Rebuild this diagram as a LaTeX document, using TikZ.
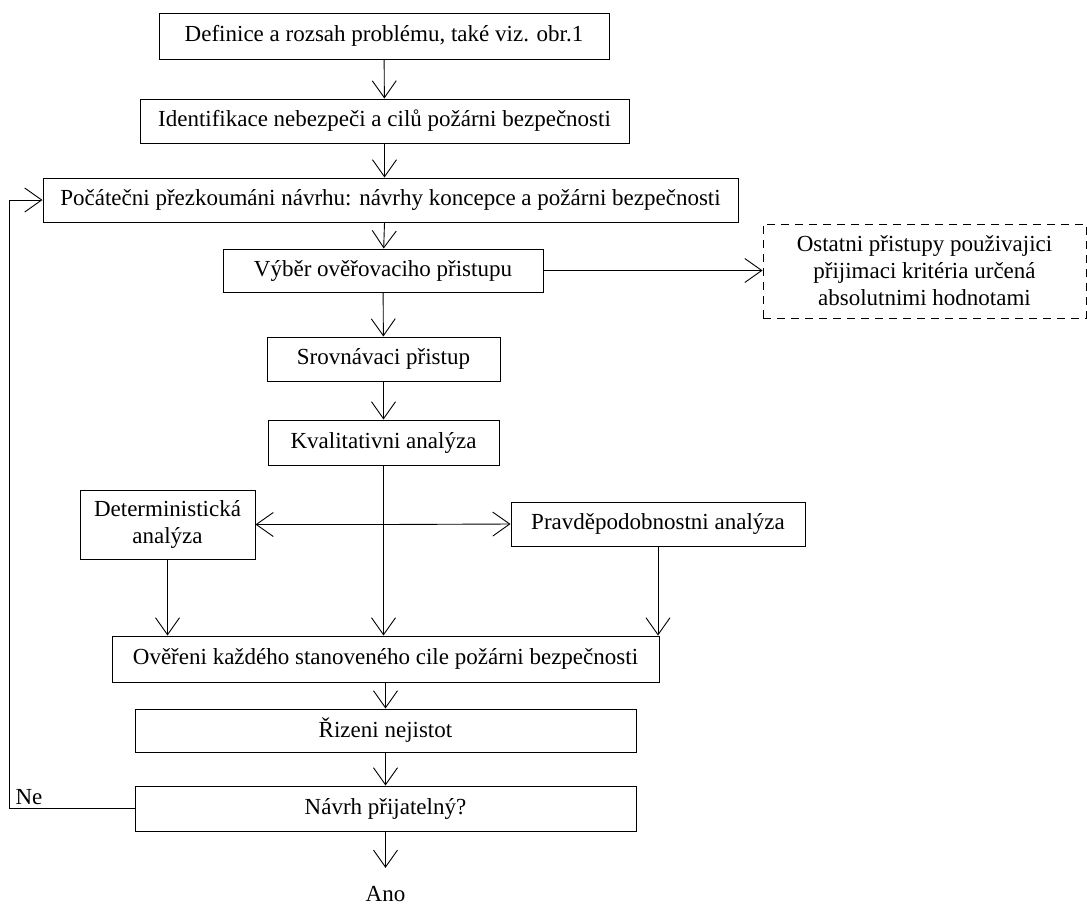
\documentclass[tikz,border=0pt]{standalone}
\usepackage{fontspec}
\setmainfont{Liberation Serif}
\usetikzlibrary{arrows.meta, calc, positioning}

\tikzset{
  blok/.style={draw, line width=1pt, inner sep=0pt, align=center},
  volny/.style={draw, dashed, dash pattern=on 8pt off 6pt, line width=0.9pt, inner sep=0pt, align=center},
  popis/.style={inner sep=0pt}
}

\begin{document}
\begin{tikzpicture}[x=1pt, y=-1pt, line width=0.9pt,
  >={Straight Barb[length=17pt, width=24pt]},
  every node/.style={font=\fontsize{23}{27}\selectfont}]
                        \useasboundingbox (0, 0) rectangle (1087, 906);
                        \node[blok, minimum width=450pt, minimum height=46pt] (definice) at (384, 36) {Definice a rozsah problému, také viz. obr.1};
                        \node[blok, minimum width=489pt, minimum height=44pt] (identifikace) at (384.5, 121) {Identifikace nebezpeči a cilů požárni bezpečnosti};
                        \node[blok, minimum width=695pt, minimum height=44pt] (pocatecni) at (390.5, 200) {Počátečni přezkoumáni návrhu: návrhy koncepce a požárni bezpečnosti};
                        \node[blok, minimum width=320pt, minimum height=43pt] (vyber) at (383, 270.5) {Výběr ověřovaciho přistupu};
                        \node[volny, minimum width=323pt, minimum height=94pt] (ostatni) at (924.5, 271) {Ostatni přistupy použivajici\\přijimaci kritéria určená\\absolutnimi hodnotami};
                        \node[blok, minimum width=233pt, minimum height=44pt] (srovnavaci) at (383.5, 359) {Srovnávaci přistup};
                        \node[blok, minimum width=231pt, minimum height=45pt] (kvalitativni) at (383.5, 442.5) {Kvalitativni analýza};
                        \node[blok, minimum width=175pt, minimum height=69pt] (deterministicka) at (167.5, 524.5) {Deterministická\\analýza};
                        \node[blok, minimum width=294pt, minimum height=44pt] (pravdepodobnostni) at (658, 524) {Pravděpodobnostni analýza};
                        \node[blok, minimum width=547pt, minimum height=46pt] (overeni) at (385.5, 659) {Ověřeni každého stanoveného cile požárni bezpečnosti};
                        \node[blok, minimum width=501pt, minimum height=43pt] (rizeni) at (385.5, 730.5) {Řizeni nejistot};
                        \node[blok, minimum width=501pt, minimum height=45pt] (navrh) at (385.5, 808.5) {Návrh přijatelný?};
                        \node[popis] (ne) at (29, 797) {Ne};
                        \node[popis] (ano) at (385.5, 894) {Ano};
                        \coordinate (zpet) at (9, 808.5);

                        \draw (definice) edge[->] (identifikace);
                        \draw (identifikace) edge[->] (identifikace |- pocatecni.north);
                        \draw (identifikace |- pocatecni.south) edge[->] (vyber);
                        \draw (vyber) edge[->] (srovnavaci);
                        \draw (srovnavaci) edge[->] (kvalitativni);
                        \draw (vyber.east) edge[->] (vyber.east -| ostatni.west);
                        \draw (kvalitativni.south) edge[->] (kvalitativni.south |- overeni.north);
                        \draw (kvalitativni.south |- deterministicka.east) edge[->] (deterministicka.east);
                        \draw (kvalitativni.south |- deterministicka.east) edge[->] (pravdepodobnostni.west);
                        \draw (deterministicka.south) edge[->] (deterministicka.south |- overeni.north);
                        \draw (pravdepodobnostni.south) edge[->] (pravdepodobnostni.south |- overeni.north);
                        \draw (overeni) edge[->] (rizeni);
                        \draw (rizeni) edge[->] (navrh);
                        \draw[->, shorten >=18pt] (navrh.south) -- (ano.north);
                        \draw[->] (navrh.west) -- (zpet) |- (pocatecni.west);
                    \end{tikzpicture}
\end{document}
